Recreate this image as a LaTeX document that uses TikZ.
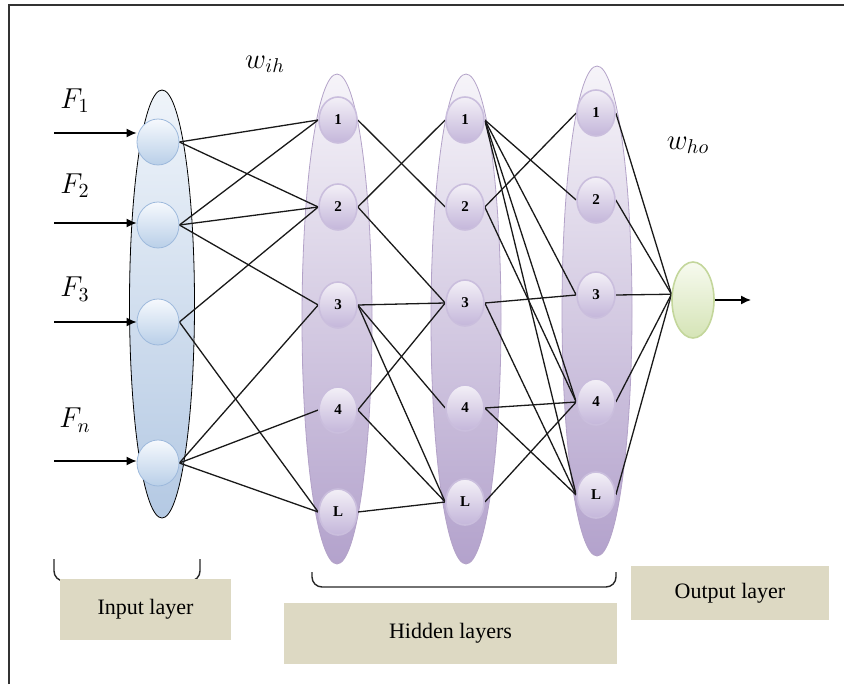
\documentclass[tikz,border=0pt]{standalone}
\usepackage{fontspec}
\setmainfont{Liberation Serif}
\usepackage{tikz}
\usetikzlibrary{arrows.meta}
\usetikzlibrary{shapes.geometric}
\definecolor{shelltop}{HTML}{F6F4F9}
\definecolor{shellbot}{HTML}{B3A2CC}
\definecolor{shellline}{HTML}{B3A2C8}
\definecolor{hidtop}{HTML}{F3F0F7}
\definecolor{hidbot}{HTML}{C4B6DA}
\definecolor{hidline}{HTML}{CABEDD}
\definecolor{intop}{HTML}{EFF4FA}
\definecolor{inbot}{HTML}{B4C9E3}
\definecolor{innodetop}{HTML}{F6F9FD}
\definecolor{innodebot}{HTML}{B9CFE8}
\definecolor{innodeline}{HTML}{9DB9DC}
\definecolor{outtop}{HTML}{F7FAEF}
\definecolor{outbot}{HTML}{D5E4B6}
\definecolor{outline}{HTML}{C3D69B}
\definecolor{boxfill}{HTML}{DDD9C3}
\tikzset{basic node/.style={ellipse,inner sep=0pt}}
\tikzset{hidden node/.style={basic node,draw=hidline,thick,
                             top color=hidtop,bottom color=hidbot,
                             minimum width=19pt,minimum height=23pt,
                             font=\bfseries\fontsize{7.5}{8}\selectfont}}
\tikzset{input node/.style={basic node,draw=innodeline,
                            top color=innodetop,bottom color=innodebot,
                            minimum width=21pt,minimum height=23pt}}
\tikzset{link/.style={draw,black!90,line width=0.65pt}}
\pgfdeclarelayer{shells}
\pgfdeclarelayer{links}
\pgfsetlayers{shells,links,main}

\begin{document}
\begin{tikzpicture}
      [
      x=0.5pt,y=-0.5pt,
      hidden shell/.style={basic node,draw=shellline,
      top color=shelltop,bottom color=shellbot,
      minimum width=35pt,minimum height=245pt},
      input shell/.style={basic node,draw=black,
      top color=intop,bottom color=inbot,
      minimum width=32.5pt,minimum height=214pt},
      output node/.style={basic node,draw=outline,thick,
      top color=outtop,bottom color=outbot,
      minimum width=21pt,minimum height=38pt},
      label box/.style={fill=boxfill,inner sep=0pt,
      font=\fontsize{11}{12}\selectfont},
      bracket/.style={draw,black!85,line width=0.7pt,rounded corners=5pt},
      feed/.style={draw,line width=0.7pt,-{Latex[length=5pt,width=4.5pt]}},
      ]

      \useasboundingbox (0,0) rectangle (844,684);
      \draw [black!80,line width=0.8pt] (9,684) -- (9,5) -- (844,5);

      % layer shells
      \begin{pgfonlayer}{shells}
      \node [input shell] (S0) at (162,304) {};
      \foreach \c/\x/\y in {1/337/319,2/466/319,3/597/311}
      {
      \node [hidden shell] (S\c) at (\x,\y) {};
      }
      \end{pgfonlayer}

      % input nodes and features
      \foreach \i/\y/\ya/\yl in {1/142/133/101,2/225/223/186,3/322/322/289,n/463/461/420}
      {
      \node [input node] (I\i) at (158,\y) {};
      \node (F\i) at (75,\yl) {\Large $F_\i$};
      \coordinate (s\i) at (54,\ya);
      \draw [feed] (s\i) -- (s\i -| I\i.west);
      }

      % hidden nodes
      \foreach \c/\x/\ya/\yb/\yc/\yd/\ye in
      {1/338/120/207/305/410/512,
      2/465/120/207/303/408/502,
      3/596/113/200/295/402/495}
      {
      \foreach \k/\y in {1/\ya,2/\yb,3/\yc,4/\yd,L/\ye}
      {
      \node [hidden node] (H\c\k) at (\x,\y) {\k};
      }
      }

      % output node
      \node [output node] (O) at (693,300) {};
      \coordinate (out) at (751,300);
      \draw [feed] (O.east) -- (out);

      % weights
      \node (wih) at (265,64) {\Large $w_{ih}$};
      \node (who) at (688,145) {\Large $w_{ho}$};

      % connections
      \begin{pgfonlayer}{links}
      \foreach \a/\b in
      {I1/H11, I1/H12, I2/H11, I2/H12, I2/H13, I3/H12, I3/H1L,
      In/H13, In/H14, In/H1L,
      H11/H22, H12/H21, H12/H23, H13/H23, H13/H24, H13/H2L,
      H14/H23, H14/H2L, H1L/H2L,
      H21/H32, H21/H33, H21/H34, H21/H3L, H22/H31, H22/H34,
      H23/H33, H23/H3L, H24/H34, H24/H3L, H2L/H34}
      {
      \draw [link] (\a.east) -- (\b.west);
      }
      \foreach \k in {1,2,3,4,L}
      {
      \draw [link] (H3\k.east) -- (O.165);
      }
      \end{pgfonlayer}

      % brackets and captions
      \draw [bracket] (54,559) -- (54,581) -- (200,581) -- (200,559);
      \draw [bracket] (312,572) -- (312,587) -- (616,587) -- (616,572);
      \node [label box,minimum width=85.5pt,minimum height=30.5pt] (inbox) at (145.5,609.5) {Input layer};
      \node [label box,minimum width=166.5pt,minimum height=30.5pt] (hidbox) at (450.5,633.5) {Hidden layers};
      \node [label box,minimum width=99pt,minimum height=27pt] (outbox) at (730,593) {Output layer};

    \end{tikzpicture}
\end{document}
